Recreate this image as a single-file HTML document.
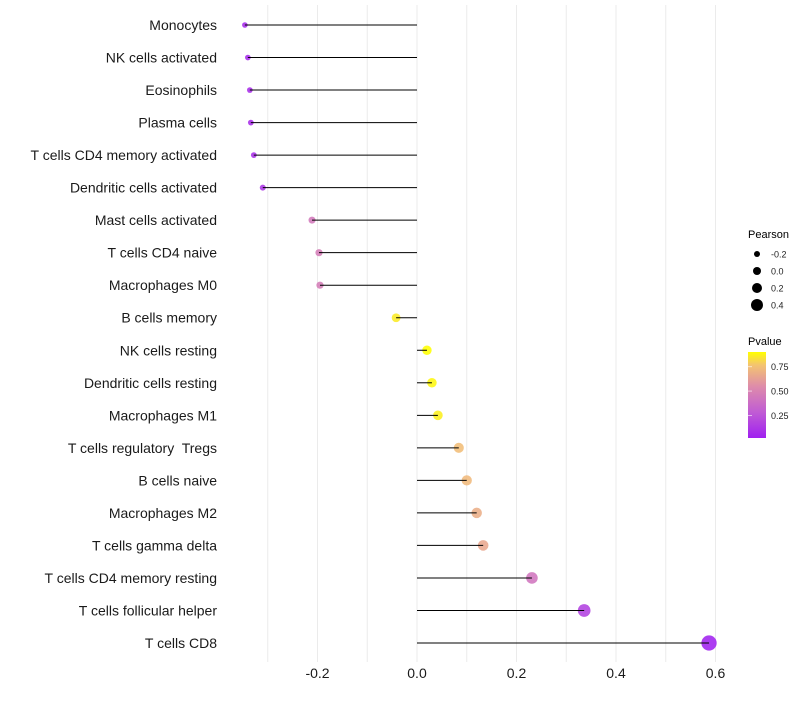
<!DOCTYPE html>
<html><head><meta charset="utf-8">
<style>
body{margin:0;background:#fff;font-family:"Liberation Sans",sans-serif;}
svg text{font-family:"Liberation Sans",sans-serif;white-space:pre;}
</style></head>
<body>
<svg id="chart" width="800" height="700" xmlns="http://www.w3.org/2000/svg">
<g id="grid"></g><g id="points"></g><g id="marks"></g><g id="labels"></g><g id="legend"></g>
</svg>
<script>
const categories=["Monocytes","NK cells activated","Eosinophils","Plasma cells","T cells CD4 memory activated","Dendritic cells activated","Mast cells activated","T cells CD4 naive","Macrophages M0","B cells memory","NK cells resting","Dendritic cells resting","Macrophages M1","T cells regulatory  Tregs","B cells naive","Macrophages M2","T cells gamma delta","T cells CD4 memory resting","T cells follicular helper","T cells CD8"];
const pearson=[-0.346,-0.34,-0.336,-0.334,-0.328,-0.31,-0.211,-0.197,-0.195,-0.042,0.02,0.03,0.042,0.084,0.1,0.12,0.133,0.231,0.336,0.587];
const pvalue=[0.05,0.05,0.06,0.06,0.07,0.09,0.4,0.42,0.42,0.85,0.9,0.88,0.86,0.72,0.7,0.65,0.62,0.38,0.14,0.01];
const xTicks=[-0.2,0,0.2,0.4,0.6];
const xTickLabels=["-0.2","0.0","0.2","0.4","0.6"];
const sizeBreaks=[-0.2,0,0.2,0.4];
const pBreaks=[0.25,0.5,0.75];

const NS="http://www.w3.org/2000/svg";
function X(v){return 417+v*497.5;}
function Y(i){return 25+i*(643-25)/(categories.length-1);}
function R(v){return Math.max(2,4.6+5.2*v);}
function LR(v){return 4+5*v;}
const stops=[[0,[160,32,240]],[0.25,[192,92,212]],[0.5,[222,140,170]],[0.75,[244,196,112]],[0.9,[255,255,0]]];
function col(p){
  if(p<=stops[0][0])return `rgb(${stops[0][1]})`;
  for(let i=1;i<stops.length;i++){if(p<=stops[i][0]){const a=stops[i-1],b=stops[i];const t=(p-a[0])/(b[0]-a[0]);return `rgb(${a[1].map((c,k)=>Math.round(c+(b[1][k]-c)*t)).join(',')})`;}}
  return "rgb(255,255,0)";
}
function mk(tag,attrs,parent,txt){const e=document.createElementNS(NS,tag);for(const k in attrs)e.setAttribute(k,attrs[k]);if(txt!==undefined)e.textContent=txt;document.getElementById(parent).appendChild(e);return e;}

for(let v=-0.3;v<=0.65;v+=0.1){
  const g=mk("line",{x1:X(v),x2:X(v),y1:5,y2:662,stroke:"#ebebeb","stroke-width":1},"grid");
  
  
}
xTicks.forEach((v,i)=>{
  const t=mk("text",{x:X(v),y:678,"font-size":14,"text-anchor":"middle",fill:"#1a1a1a"},"labels",xTickLabels[i]);
  
  
});
categories.forEach((c,i)=>{
  const y=Y(i);
  const pt=mk("circle",{cx:X(pearson[i]),cy:y,r:R(pearson[i]),fill:col(pvalue[i]),"fill-opacity":0.88},"points");
  
  
  const ln=mk("line",{x1:X(0),x2:X(pearson[i]),y1:y,y2:y,stroke:"#000","stroke-width":1},"marks");
  
  
  const t=mk("text",{x:217,y:y+5,"font-size":14,"text-anchor":"end",fill:"#1a1a1a"},"labels",c);
  
  
});
const st=mk("text",{x:748,y:238,"font-size":11,fill:"#000"},"legend","Pearson");


sizeBreaks.forEach((v,i)=>{
  const y=254+i*17;
  const c=mk("circle",{cx:757,cy:y,r:LR(v),fill:"#000"},"legend");
  
  
  const t=mk("text",{x:771,y:y+3.5,"font-size":9,fill:"#222"},"legend",v===0?"0.0":String(v));
  
  
});
const pt2=mk("text",{x:748,y:345,"font-size":11,fill:"#000"},"legend","Pvalue");


const defs=document.createElementNS(NS,"defs");
defs.innerHTML='<linearGradient id="pg" x1="0" y1="1" x2="0" y2="0"><stop offset="0" stop-color="rgb(160,32,240)"/><stop offset="0.3" stop-color="rgb(192,92,212)"/><stop offset="0.6" stop-color="rgb(222,140,170)"/><stop offset="0.85" stop-color="rgb(244,196,112)"/><stop offset="1" stop-color="rgb(255,255,0)"/></linearGradient>';
document.getElementById("chart").appendChild(defs);
const bar=mk("rect",{x:748,y:352,width:18,height:86,fill:"url(#pg)"},"legend");


pBreaks.forEach(p=>{
  const y=438-(p-0.02)/(0.9-0.02)*86;
  const tk=mk("line",{x1:748,x2:752,y1:y,y2:y,stroke:"#fff","stroke-opacity":0.6},"legend");
  
  
  const t=mk("text",{x:771,y:y+3.5,"font-size":9,fill:"#222"},"legend",p.toFixed(2));
  
  
});
</script>
</body></html>
